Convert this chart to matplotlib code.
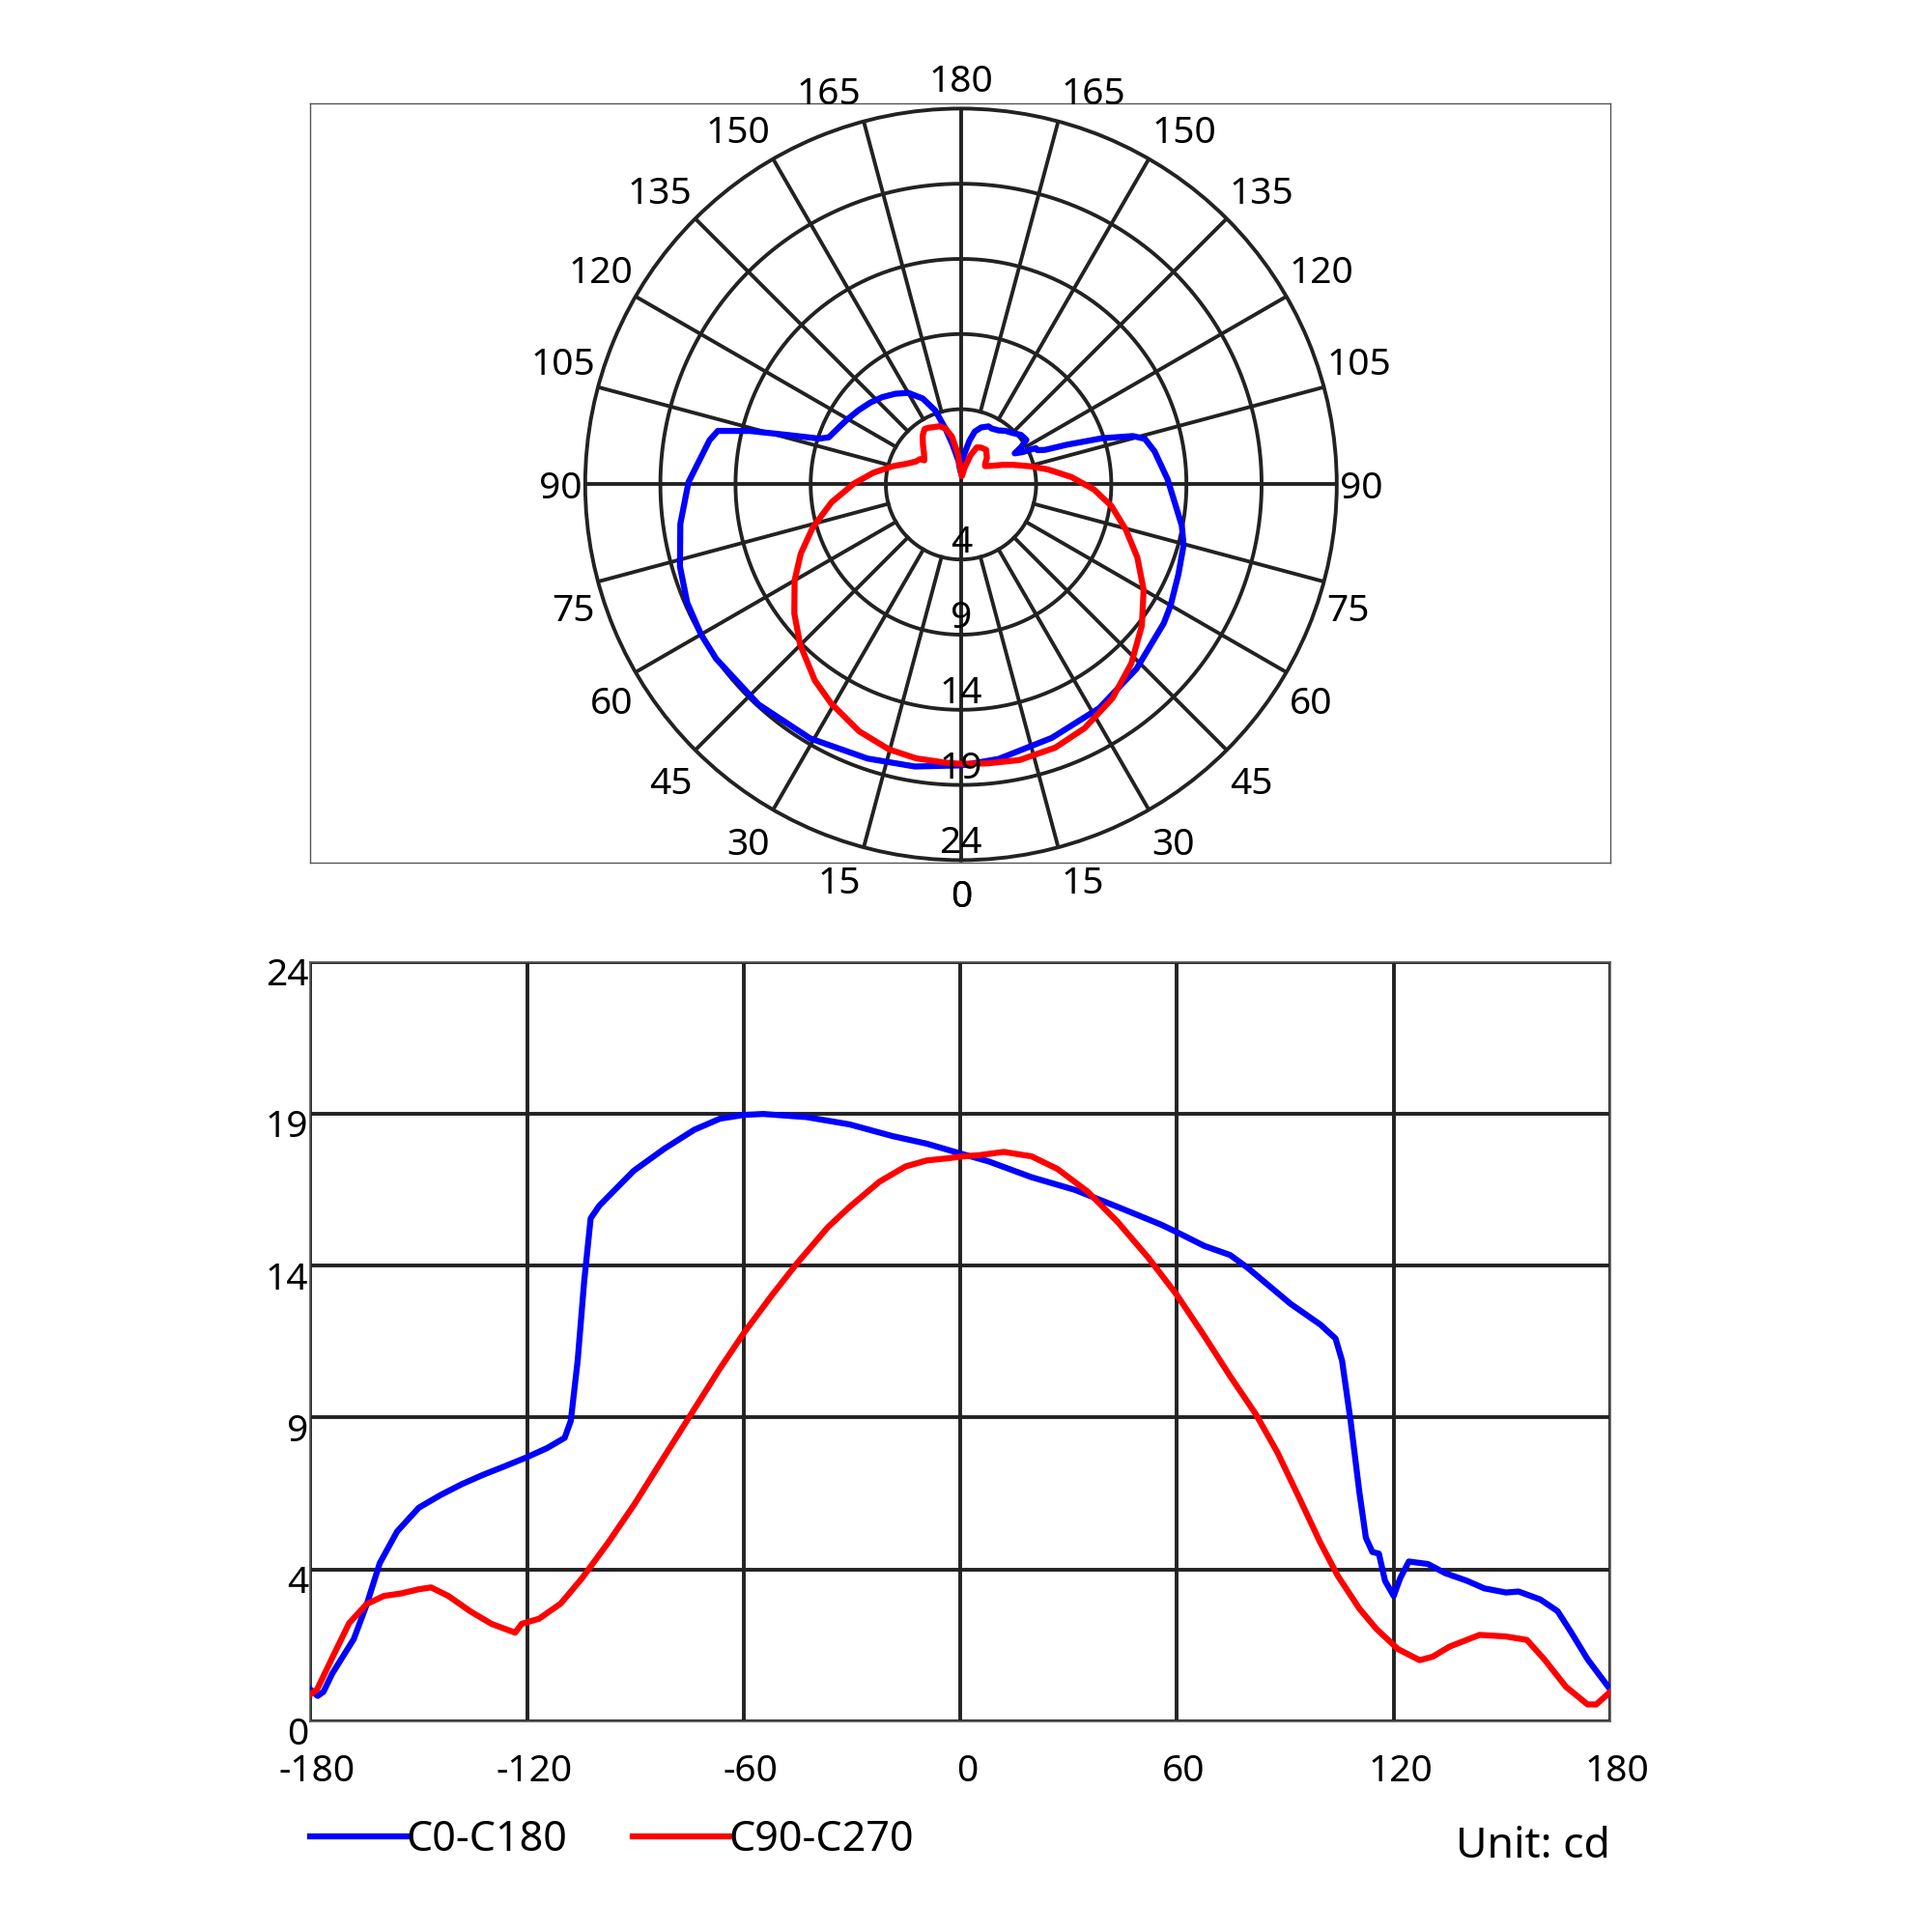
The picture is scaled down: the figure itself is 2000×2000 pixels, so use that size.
import numpy as np
import matplotlib
matplotlib.use("Agg")
import matplotlib.pyplot as plt
import matplotlib.transforms as mtransforms

# C0-C180 plane (blue)
blue_deg = [-180, -178, -176.4, -174, -168, -164.4, -160.8, -156, -150, -144, -138, -132,
            -126, -120, -114.4, -109.6, -107.9, -106, -104.2, -102.4, -100, -90.5, -82,
            -73.7, -66.6, -60, -54.6, -42.6, -30.7, -18.8, -9.3, 0, 7.8, 19.7, 31.7, 43.6,
            55.6, 60, 67.5, 74.7, 79.4, 91.4, 99.7, 103.9, 105.7, 108.1, 110.5, 112.3,
            114.1, 115.9, 117.6, 120, 121.8, 124.2, 129.5, 134.3, 140.3, 145.1, 151.1,
            154.6, 160.6, 165.4, 169, 173.7, 180]
blue_cd = [1.0, 0.8, 0.93, 1.5, 2.6, 3.7, 5.0, 6.0, 6.75, 7.15, 7.5, 7.8,
           8.07, 8.35, 8.64, 8.96, 9.5, 11.4, 13.9, 15.9, 16.3, 17.4, 18.1,
           18.7, 19.05, 19.17, 19.2, 19.1, 18.87, 18.5, 18.26, 17.95, 17.7, 17.2, 16.8, 16.26,
           15.7, 15.46, 15.03, 14.74, 14.35, 13.2, 12.54, 12.1, 11.4, 9.47, 7.24, 5.8,
           5.35, 5.3, 4.44, 3.96, 4.52, 5.05, 4.97, 4.68, 4.44, 4.2, 4.07,
           4.1, 3.85, 3.48, 2.84, 1.96, 1.0]

# C90-C270 plane (red)
red_deg = [-180, -178.2, -174, -169.3, -164.5, -159.7, -154.9, -150.1, -146.6, -141.8,
           -135.8, -129.9, -123.3, -121.5, -116.7, -110.7, -104.8, -97.6, -90.4, -82.1,
           -73.7, -66.6, -60, -52.2, -45.1, -36.7, -30.7, -22.4, -15.2, -9.3, -3.3, 0,
           5.4, 12, 19.7, 26.9, 35.3, 43.6, 52, 60, 67.5, 74.7, 81.8, 87.8, 93.8, 99.7,
           104.5, 110.5, 115.2, 121.2, 127.2, 130.8, 135.5, 143.8, 151, 156.9, 161.7,
           167.7, 173.7, 176.1, 180]
red_cd = [0.85, 1.0, 2.0, 3.1, 3.7, 3.96, 4.04, 4.17, 4.23, 3.96,
          3.48, 3.08, 2.8, 3.08, 3.24, 3.72, 4.52, 5.64, 6.84, 8.35,
          9.87, 11.15, 12.27, 13.47, 14.5, 15.62, 16.26, 17.06, 17.54, 17.73, 17.8, 17.85,
          17.9, 18.0, 17.86, 17.46, 16.74, 15.78, 14.66, 13.47, 12.19, 10.91, 9.71, 8.5, 7.07, 5.64,
          4.6, 3.56, 2.92, 2.28, 1.93, 2.04, 2.36, 2.73, 2.68, 2.57, 1.96,
          1.09, 0.53, 0.53, 0.93]

# intensity ticks (labels are truncated values, as in the original)
r_ticks = [0, 4.8, 9.6, 14.4, 19.2, 24]
r_labels = ["0", "4", "9", "14", "19", "24"]
x_ticks = [-180, -120, -60, 0, 60, 120, 180]
angle_ticks = list(range(-165, 181, 15)) + [0]

GRID = "#222222"
BLUE = "#0000ff"
RED = "#ff0000"
FS = 28
LW_GRID = 2.8
LW_CURVE = 4.5
PX = 0.72  # points per pixel at dpi 100

plt.rcParams['font.family'] = ['Noto Sans', 'DejaVu Sans']

fig = plt.figure(figsize=(20, 20), dpi=100)

#Frame around the polar diagram
frame = fig.add_axes([0.1607, 0.5536, 0.6728, 0.3929])
frame.set_xticks([])
frame.set_yticks([])
for s in frame.spines.values():
    s.set_linewidth(1.0)
    s.set_color("#555555")

#Polar diagram
pax = fig.add_axes([0.3029, 0.5548, 0.389, 0.389], projection='polar')
pax.set_facecolor('none')
pax.set_theta_zero_location('S')
pax.set_theta_direction(1)
pax.set_rlim(0, 24)
pax.grid(False)
pax.set_xticks([])
pax.set_yticks([])
pax.spines['polar'].set_linewidth(LW_GRID)
pax.spines['polar'].set_color(GRID)

full = np.linspace(0, 2 * np.pi, 721)
for r in r_ticks[1:-1]:
    pax.plot(full, np.full_like(full, r), color=GRID, lw=LW_GRID, zorder=1)
for a in range(0, 360, 15):
    r0 = 0 if a % 90 == 0 else r_ticks[1]
    pax.plot([np.radians(a)] * 2, [r0, 24], color=GRID, lw=LW_GRID, zorder=1)

pax.plot(np.radians(blue_deg), blue_cd, color=BLUE, lw=LW_CURVE, zorder=3,
         solid_joinstyle='round')
pax.plot(np.radians(red_deg), red_cd, color=RED, lw=LW_CURVE, zorder=3,
         solid_joinstyle='round')

#angle labels round the outer circle
for a in angle_ticks:
    if a == 0 or a == 180:
        ha, dx = 'center', 0
    elif a < 0:
        ha, dx = 'right', -3
    else:
        ha, dx = 'left', 3
    if abs(a) == 90:
        va, dy = 'baseline', -14.5
    elif abs(a) > 90:
        va, dy = 'baseline', 11 + 6.5 * abs(np.cos(np.radians(a)))
    else:
        va, dy = 'top', -(9.5 + 10 * np.cos(np.radians(a)))
    pax.annotate(str(abs(a)), (np.radians(a), 24), xytext=(dx * PX, dy * PX),
                 textcoords='offset points', ha=ha, va=va, fontsize=FS,
                 annotation_clip=False)

#intensity labels along the 0 spoke
for r, lab in zip(r_ticks[1:], r_labels[1:]):
    pax.annotate(lab, (0, r - 1.33), xytext=(0, -14.5 * PX), textcoords='offset points',
                 ha='center', va='baseline', fontsize=FS, zorder=4)

#Cartesian diagram
ax = fig.add_axes([0.1607, 0.1091, 0.6728, 0.3929])
ax.plot(blue_deg, blue_cd, color=BLUE, lw=LW_CURVE, label='C0-C180', zorder=3,
        solid_joinstyle='round')
ax.plot(red_deg, red_cd, color=RED, lw=LW_CURVE, label='C90-C270', zorder=3,
        solid_joinstyle='round')
ax.set_xlim(-180, 180)
ax.set_ylim(0, 24)
ax.set_xticks(x_ticks)
ax.set_xticklabels([str(v) for v in x_ticks])
ax.set_yticks(r_ticks)
ax.set_yticklabels(r_labels)
ax.tick_params(length=0, labelsize=FS)
ax.tick_params(axis='x', pad=24)
ax.tick_params(axis='y', pad=1.5)
shift_x = mtransforms.ScaledTranslation(5 / 72, 0, fig.dpi_scale_trans)
shift_y = mtransforms.ScaledTranslation(0, -7 / 72, fig.dpi_scale_trans)
for lab in ax.get_xticklabels():
    lab.set_transform(lab.get_transform() + shift_x)
for lab in ax.get_yticklabels():
    lab.set_transform(lab.get_transform() + shift_y)
ax.grid(True, color=GRID, lw=LW_GRID)
for s in ax.spines.values():
    s.set_linewidth(1.2)
    s.set_color("#555555")

ax.legend(loc='center left', bbox_to_anchor=(0, -0.157), frameon=False, ncol=2,
          fontsize=31, handlelength=2.31, handletextpad=0, columnspacing=1.57,
          borderpad=0, borderaxespad=0)
ax.text(1.0, -0.166, "Unit: cd", transform=ax.transAxes, ha='right', va='center',
        fontsize=32)

fig.savefig("out.png", dpi=100)
